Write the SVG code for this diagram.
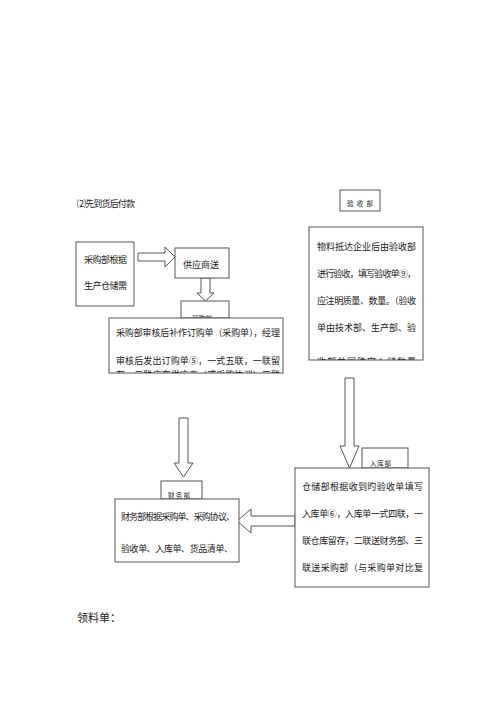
<svg xmlns="http://www.w3.org/2000/svg" width="500" height="707" viewBox="0 0 500 707">
<style>
.box{fill:#fff;stroke:#555;stroke-width:1}
.arr{fill:#fff;stroke:#555;stroke-width:1}
text{font-family:"Noto Sans CJK SC","Liberation Serif",serif;fill:#222}
.t{font-size:9px}
.s{font-size:6.5px}
</style>
<defs>
<clipPath id="c1"><rect x="76" y="242" width="58" height="64"/></clipPath>
<clipPath id="c2"><rect x="109" y="318" width="174" height="55"/></clipPath>
<clipPath id="c3"><rect x="309" y="227" width="114" height="133"/></clipPath>
<clipPath id="c4"><rect x="295" y="468" width="134" height="119"/></clipPath>
<clipPath id="c5"><rect x="115" y="499" width="124" height="63"/></clipPath>
<clipPath id="cs1"><rect x="181" y="301" width="48" height="17"/></clipPath>
<clipPath id="cs2"><rect x="161" y="481" width="41" height="18"/></clipPath>
<clipPath id="cs3"><rect x="362" y="448" width="46" height="20"/></clipPath>
</defs>
<text x="77" y="207" class="t" textLength="58" lengthAdjust="spacing">⑵先到货后付款</text>
<g id="connectors">
<polygon class="arr" points="138,253 165,253 165,247 175,257 165,267 165,261 138,261"/>
<polygon class="arr" points="201,278 210,278 210,293 214,293 205.5,301 197,293 201,293"/>
<polygon class="arr" points="179,418 188,418 188,463 193,463 183.5,477 174,463 179,463"/>
<polygon class="arr" points="345,378 354,378 354,446 359,446 349.5,468 340,446 345,446"/>
<polygon class="arr" points="295,516 251,516 251,509 237,521 251,533 251,526 295,526"/>
</g>
<g id="n1">
<rect class="box" x="76" y="242" width="58" height="64"/>
<g clip-path="url(#c1)">
<text x="84" y="263" class="t" textLength="43" lengthAdjust="spacing">采购部根据</text>
<text x="84" y="289" class="t" textLength="43" lengthAdjust="spacing">生产仓储需</text>
</g>
</g>
<g id="n2">
<rect class="box" x="175" y="248" width="54" height="30"/>
<text x="183" y="268" class="t" textLength="36" lengthAdjust="spacing">供应商送</text>
</g>
<g id="n3s">
<rect class="box" x="181" y="301" width="48" height="17"/>
<g clip-path="url(#cs1)"><text x="192" y="321" class="s" textLength="20" lengthAdjust="spacing">采购部</text></g>
</g>
<g id="n3">
<rect class="box" x="109" y="318" width="174" height="55"/>
<g clip-path="url(#c2)">
<text x="116" y="336" class="t" textLength="164" lengthAdjust="spacing">采购部审核后补作订购单（采购单），经理</text>
<text x="116" y="364" class="t" textLength="164" lengthAdjust="spacing">审核后发出订购单⑤，一式五联，一联留</text>
<text x="116" y="378" class="t" textLength="164" lengthAdjust="spacing">存，二联应交供应商（或采购协议）三联</text>
</g>
</g>
<g id="n4s">
<rect class="box" x="340" y="190" width="40" height="21"/>
<text x="347" y="206" class="s" textLength="26" lengthAdjust="spacing">验收部</text>
</g>
<g id="n4">
<rect class="box" x="309" y="227" width="114" height="133"/>
<g clip-path="url(#c3)">
<text x="317" y="250" class="t" textLength="99" lengthAdjust="spacing">物料抵达企业后由验收部</text>
<text x="317" y="277" class="t" textLength="99" lengthAdjust="spacing">进行验收，填写验收单⑨，</text>
<text x="317" y="304" class="t" textLength="99" lengthAdjust="spacing">应注明质量、数量。（验收</text>
<text x="317" y="331" class="t" textLength="99" lengthAdjust="spacing">单由技术部、生产部、验</text>
<text x="317" y="365" class="t" textLength="99" lengthAdjust="spacing">收部共同确定入储数量</text>
</g>
</g>
<g id="n5s">
<rect class="box" x="362" y="448" width="46" height="20"/>
<g clip-path="url(#cs3)"><text x="370" y="466" class="s" textLength="21" lengthAdjust="spacing">入库部</text></g>
</g>
<g id="n5">
<rect class="box" x="295" y="468" width="134" height="119"/>
<g clip-path="url(#c4)">
<text x="302" y="490" class="t" textLength="121" lengthAdjust="spacing">仓储部根据收到旳验收单填写</text>
<text x="302" y="517" class="t" textLength="121" lengthAdjust="spacing">入库单⑥，入库单一式四联，一</text>
<text x="302" y="544" class="t" textLength="121" lengthAdjust="spacing">联仓库留存，二联送财务部、三</text>
<text x="302" y="571" class="t" textLength="121" lengthAdjust="spacing">联送采购部（与采购单对比复</text>
</g>
</g>
<g id="n6s">
<rect class="box" x="161" y="481" width="41" height="18"/>
<g clip-path="url(#cs2)"><text x="168" y="498" class="s" textLength="22" lengthAdjust="spacing">财务部</text></g>
</g>
<g id="n6">
<rect class="box" x="115" y="499" width="124" height="63"/>
<g clip-path="url(#c5)">
<text x="121" y="520" class="t" textLength="114" lengthAdjust="spacing">财务部根据采购单、采购协议、</text>
<text x="121" y="552" class="t" textLength="112" lengthAdjust="spacing">验收单、入库单、货品清单、</text>
</g>
</g>
<text x="77" y="622" style="font-size:11px">领料单：</text>
</svg>
